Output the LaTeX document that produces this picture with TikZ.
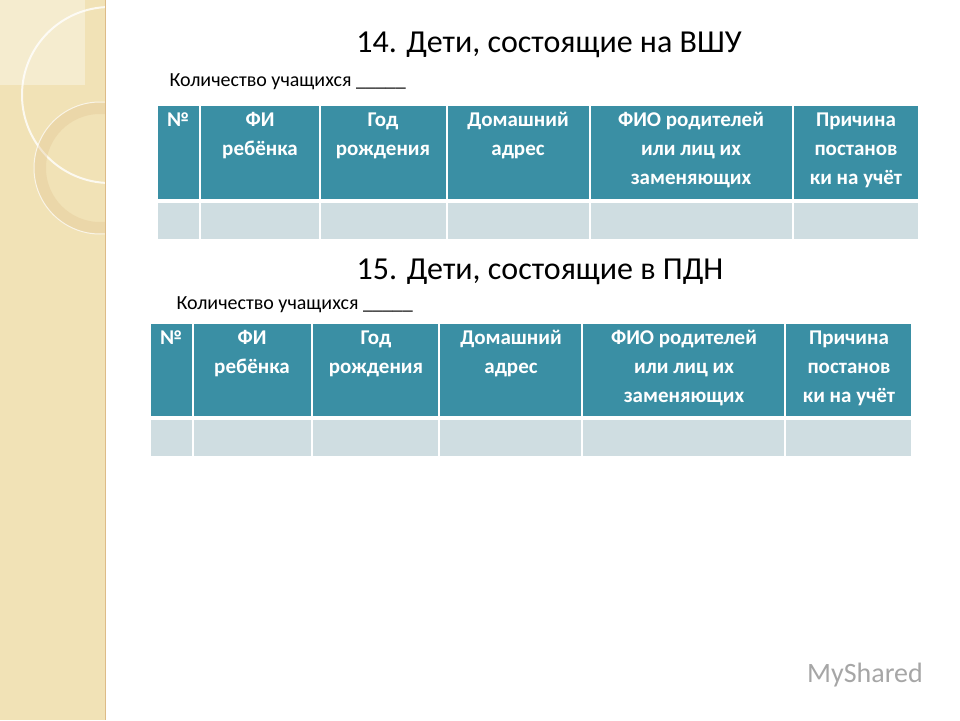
\documentclass[tikz,border=0pt]{standalone}
\usepackage{fontspec}
\setmainfont{Carlito}
\begin{document}
\begin{tikzpicture}[x=1pt,y=-1pt,
 hdr/.style={fill=hcol,draw=white,line width=1.5pt},
 bod/.style={fill=bcol,draw=white,line width=1.5pt},
 htxt/.style={text=white,font=\bfseries\fontsize{21}{29}\selectfont,align=center,anchor=north},
 ttl/.style={font=\fontsize{32}{34}\selectfont,text=black},
 sub/.style={font=\fontsize{20}{22}\selectfont,anchor=west}]
\definecolor{hcol}{HTML}{3A8FA4}
\definecolor{bcol}{HTML}{CFDDE1}
\definecolor{beige}{HTML}{F1E2B6}
\useasboundingbox (0,0) rectangle (960,720);
\fill[white] (0,0) rectangle (960,720);
\fill[beige] (0,0) rectangle (105,720);
\begin{scope}
\clip (0,0) rectangle (105,720);
\fill[white,opacity=0.35] (0,0) rectangle (85,85);
\draw[white,line width=2pt,opacity=0.8] (110,95) circle (88);
\draw[color=beige!70!brown,line width=12pt,opacity=0.35] (100,168) circle (60);
\draw[white,line width=1pt,opacity=0.7] (100,168) circle (66);
\end{scope}
\draw[beige!60!brown,line width=1pt] (105,0) -- (105,720);
% titles
\node[ttl] (t1) at (549,45) {14. Дети, состоящие на ВШУ};
\node[sub] (s1) at (166,82) {Количество учащихся \_\_\_\_\_};
\node[ttl] (t2) at (540,272) {15. Дети, состоящие в ПДН};
\node[sub] (s2) at (173,305) {Количество учащихся \_\_\_\_\_};
% table 1
\foreach \a/\b [count=\i] in {157/200,200/320,320/447,447/590,590/793,793/919}{
 \draw[hdr] (\a,105) rectangle (\b,200);
 \draw[bod] (\a,202) rectangle (\b,240);
}
\node[htxt] (a1) at (178,109) {№};
\node[htxt] (a2) at (260,109) {ФИ\\ребёнка};
\node[htxt] (a3) at (383,109) {Год\\рождения};
\node[htxt] (a4) at (518,109) {Домашний\\адрес};
\node[htxt] (a5) at (691,109) {ФИО родителей\\или лиц их\\заменяющих};
\node[htxt] (a6) at (856,109) {Причина\\постанов\\ки на учёт};
% table 2
\foreach \a/\b [count=\i] in {150/193,193/312,312/439,439/582,582/785,785/912}{
 \draw[hdr] (\a,323) rectangle (\b,417);
 \draw[bod] (\a,419) rectangle (\b,457);
}
\node[htxt] (b1) at (171,327) {№};
\node[htxt] (b2) at (252,327) {ФИ\\ребёнка};
\node[htxt] (b3) at (376,327) {Год\\рождения};
\node[htxt] (b4) at (511,327) {Домашний\\адрес};
\node[htxt] (b5) at (684,327) {ФИО родителей\\или лиц их\\заменяющих};
\node[htxt] (b6) at (849,327) {Причина\\постанов\\ки на учёт};
\node[text=gray!70,font=\fontsize{28}{30}\selectfont] (wm) at (865,675) {MyShared};
\end{tikzpicture}
\end{document}
